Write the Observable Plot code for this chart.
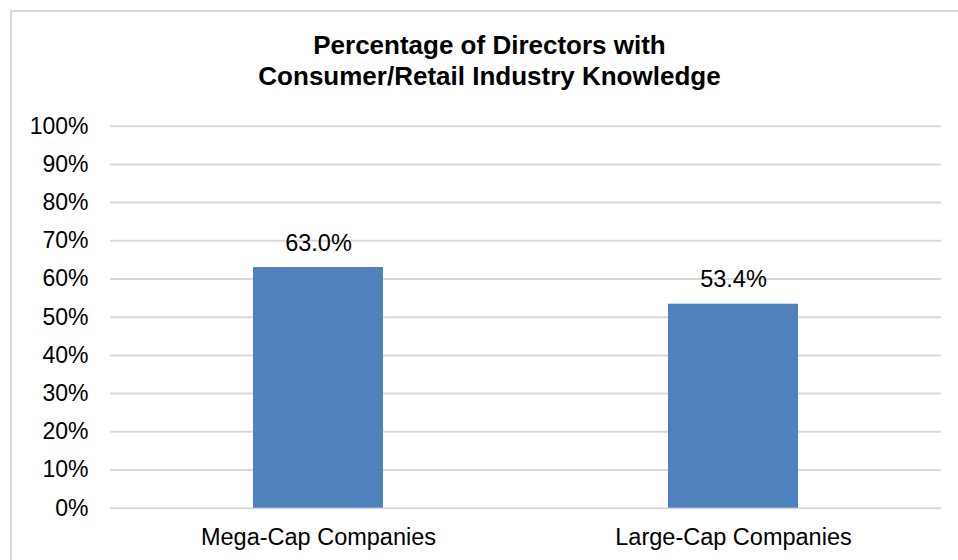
<!DOCTYPE html>
<html>
<head>
<meta charset="utf-8">
<script src="https://cdn.jsdelivr.net/npm/d3@7"></script>
<script src="https://cdn.jsdelivr.net/npm/@observablehq/plot@0.6"></script>
<style>
  html, body { margin: 0; padding: 0; background: #fff; overflow: hidden; }
  body { width: 958px; height: 560px; position: relative; font-family: "Liberation Sans", Arial, sans-serif; }
  #frame { position: absolute; left: 10px; top: 10px; width: 1000px; height: 600px; border: 2px solid #d9d9d9; box-sizing: border-box; }
  #title { position: relative; width: 979px; height: 100px; box-sizing: border-box; padding-top: 30px; text-align: center; font-weight: bold; font-size: 26px; line-height: 31px; color: #000; }
  #chart { position: relative; }
</style>
</head>
<body>
<div id="frame"></div>
<div id="title">Percentage of Directors with<br>Consumer/Retail Industry Knowledge</div>
<div id="chart"></div>
<script>
// Share of board directors with consumer/retail industry knowledge
const categories = ["Mega-Cap Companies", "Large-Cap Companies"];
const values = [63.0, 53.4];
const yTicks = [0, 10, 20, 30, 40, 50, 60, 70, 80, 90, 100];

const data = categories.map((c, i) => ({category: c, value: values[i]}));

const chart = Plot.plot({
  width: 958,
  height: 460,
  marginLeft: 110,
  marginRight: 17,
  marginTop: 25.7,
  marginBottom: 52.3,
  style: {fontFamily: '"Liberation Sans", Arial, sans-serif', fontSize: "23px", color: "#000", background: "transparent"},
  x: {domain: categories, paddingInner: 0.687, paddingOuter: 0.3435, label: null},
  y: {domain: [0, 100], label: null},
  marks: [
    Plot.ruleY(yTicks, {stroke: "#d9d9d9", strokeWidth: 2}),
    Plot.barY(data, {x: "category", y: "value", fill: "#4f81bd"}),
    Plot.text(data, {x: "category", y: "value", text: d => d.value.toFixed(1) + "%", lineAnchor: "bottom", dy: -17, fill: "#000", fontSize: 23.5}),
    Plot.axisY(yTicks, {tickSize: 0, tickPadding: 22, tickFormat: d => d + "%", label: null, fontSize: 23}),
    Plot.axisX({tickSize: 0, tickPadding: 20, label: null, fontSize: 23.5})
  ]
});
document.getElementById("chart").appendChild(chart);
</script>
</body>
</html>
